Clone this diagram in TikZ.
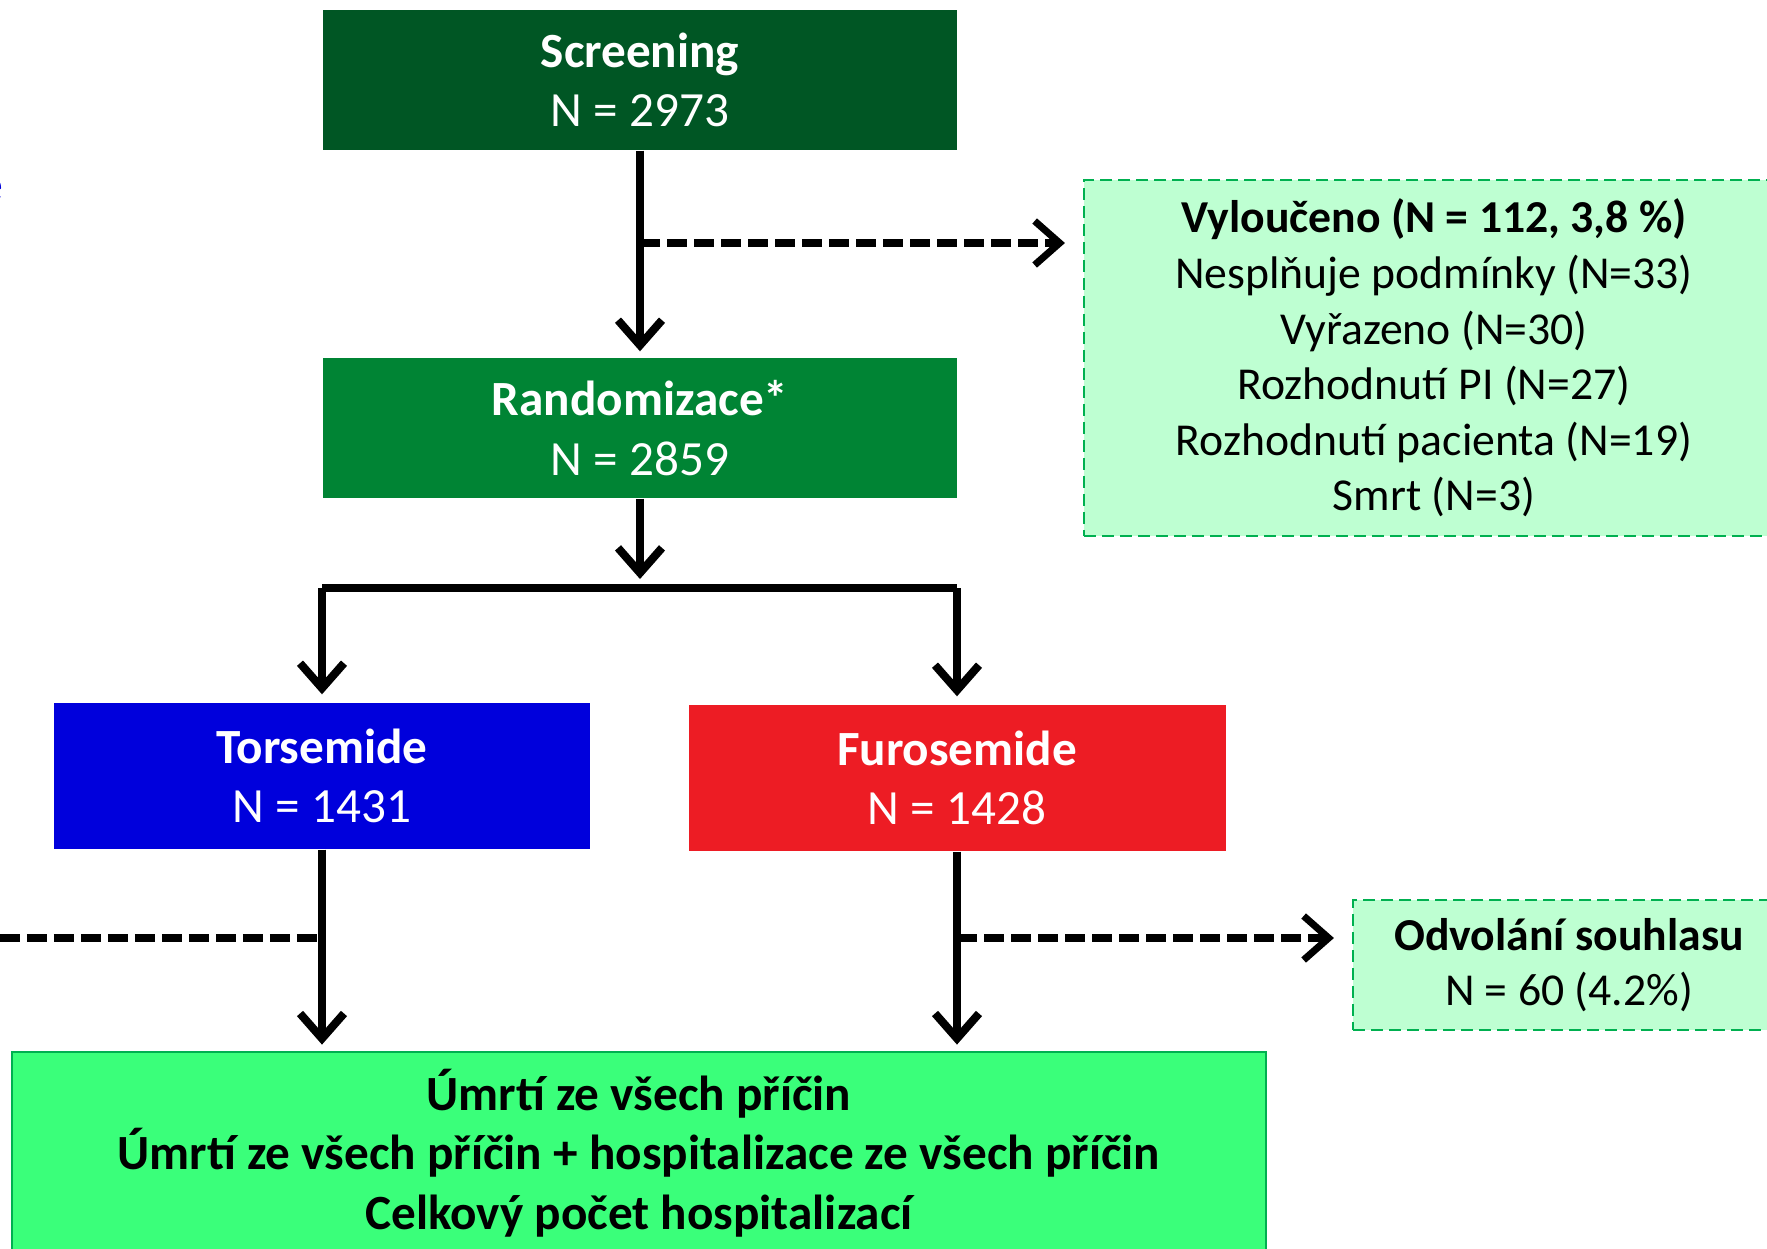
\documentclass[tikz,border=0pt]{standalone}
\usepackage{fontspec}
\setmainfont{Carlito}
\usetikzlibrary{arrows.meta,positioning}
\definecolor{figDG}{RGB}{0,86,36}
\definecolor{figG}{RGB}{0,132,52}
\definecolor{figB}{RGB}{0,0,220}
\definecolor{figR}{RGB}{237,28,36}
\definecolor{figLG}{RGB}{190,255,210}
\definecolor{figBG}{RGB}{58,255,122}
\definecolor{figE}{RGB}{0,176,80}

\begin{document}
\begin{tikzpicture}[x=0.1mm,y=-0.1mm,
  box/.style={text=white,font=\fontsize{14}{17}\selectfont,align=center,inner sep=0pt},
  note/.style={fill=figLG,draw=figE,line width=0.6pt,dash pattern=on 1.2mm off 0.6mm,
    font=\fontsize{13}{15.8}\selectfont,align=center,inner sep=0pt},
  arr/.style={line width=2.3pt,-{Straight Barb[length=2.5mm,width=4.4mm]}},
  darr/.style={arr,line width=2pt,dash pattern=on 2mm off 0.7mm},
  dline/.style={line width=2pt,dash pattern=on 2mm off 0.7mm}]
\useasboundingbox (0,0) rectangle (1767,1248);
% boxes
\node[box,fill=figDG,minimum width=63.4mm,minimum height=14mm] (scr) at (640,80)
  {\textbf{Screening}\\N = 2973};
\node[box,fill=figG,minimum width=63.4mm,minimum height=14mm] (rand) at (640,428)
  {\textbf{Randomizace*}\\N = 2859};
\node[box,fill=figB,minimum width=53.6mm,minimum height=14.6mm] (tor) at (322,776)
  {\textbf{Torsemide}\\N = 1431};
\node[box,fill=figR,minimum width=53.7mm,minimum height=14.6mm] (fur) at (957,778)
  {\textbf{Furosemide}\\N = 1428};
\node[note,minimum width=70mm,minimum height=35.6mm] (excl) at (1434,358)
  {\textbf{Vyloučeno (N = 112, 3,8 \%)}\\Nesplňuje podmínky (N=33)\\Vyřazeno (N=30)\\
   Rozhodnutí PI (N=27)\\Rozhodnutí pacienta (N=19)\\Smrt (N=3)};
\node[note,minimum width=43.2mm,minimum height=13mm] (withd) at (1569,965)
  {\textbf{Odvolání souhlasu}\\N = 60 (4.2\%)};
\node[fill=figBG,draw=figE,line width=0.8pt,minimum width=125.4mm,minimum height=20.2mm,
  font=\fontsize{14}{17}\selectfont\bfseries,align=center,inner sep=0pt] (out) at (639,1153)
  {Úmrtí ze všech příčin\\Úmrtí ze všech příčin + hospitalizace ze všech příčin\\Celkový počet hospitalizací};
\node[text=figB,font=\fontsize{13}{15}\selectfont,anchor=east,inner sep=0pt] (cut) at (4,190) {e};
% connectors
\coordinate (ex) at (640,243);
\coordinate (split) at (640,588);
\coordinate (lft) at (0,938);
\coordinate (wd) at (957,938);
\draw[arr,shorten >=0.6mm] (scr) -- (rand);
\draw[darr,shorten >=1.8mm] (ex) -- (ex -| excl.west);
\draw[arr,shorten >=0.9mm] (rand) -- (split);
\draw[line width=2.3pt] (split -| tor) -- (split -| fur);
\draw[arr,shorten >=0.8mm] (split -| tor) -- (tor);
\draw[arr,shorten >=0.8mm] (split -| fur) -- (fur);
\draw[arr,shorten >=0.6mm] (tor) -- (tor |- out.north);
\draw[arr,shorten >=0.6mm] (fur) -- (fur |- out.north);
\draw[dline] (lft) -- (lft -| tor);
\draw[darr,shorten >=1.8mm] (wd) -- (wd -| withd.west);
\end{tikzpicture}
\end{document}
